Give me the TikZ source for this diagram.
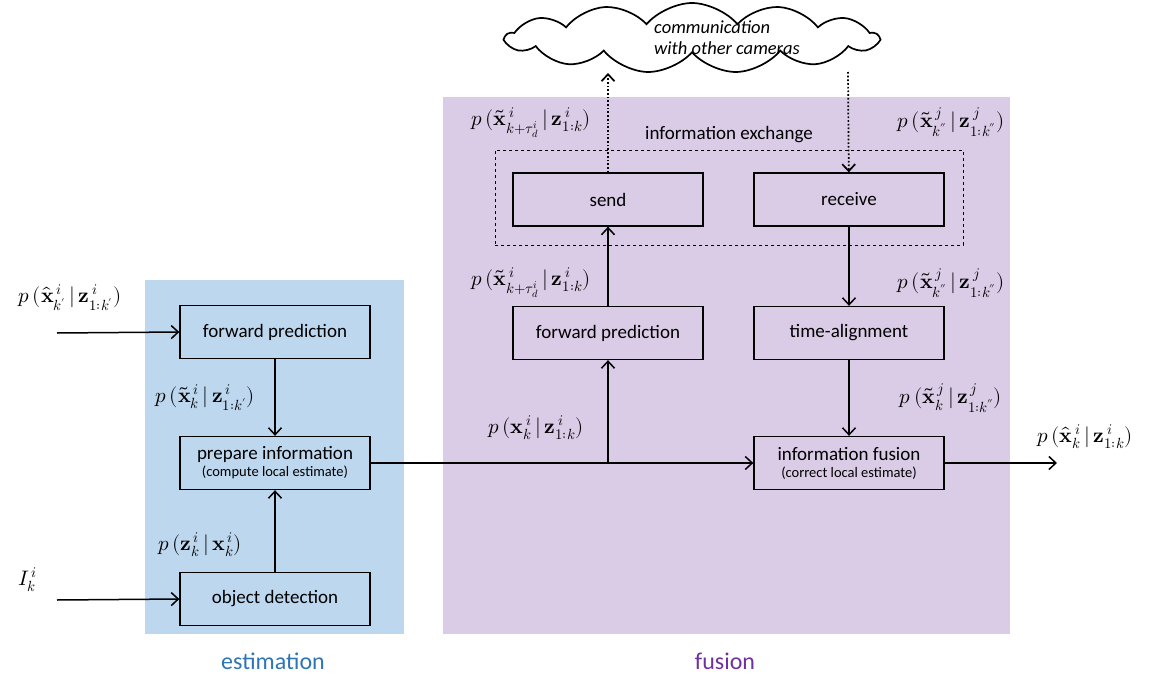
\documentclass[tikz,border=0pt]{standalone}
\usepackage{fontspec}
\usepackage{unicode-math}
\setmainfont{Carlito}
\setmathfont{Latin Modern Math}
\usetikzlibrary{arrows.meta,shapes.symbols}
\definecolor{estbg}{RGB}{189,215,238}
\definecolor{fusbg}{RGB}{218,203,230}
\definecolor{esttxt}{RGB}{46,117,182}
\definecolor{fustxt}{RGB}{112,48,160}
\newcommand{\bx}{\symbf{x}}
\newcommand{\bz}{\symbf{z}}
\newcommand{\tx}{\widetilde{\symbf{x}}}
\newcommand{\hx}{\hat{\symbf{x}}}
\begin{document}
\begin{tikzpicture}[x=1pt,y=-1pt,
  box/.style={draw, line width=1.3pt, minimum width=190pt, minimum height=53pt,
    font=\fontsize{19}{21}\selectfont, align=center, inner sep=0pt},
  flow/.style={line width=1.5pt, -{Straight Barb[length=7pt,width=13pt]}},
  link/.style={line width=1.7pt, dotted, -{Straight Barb[length=7pt,width=13pt]}},
  prob/.style={font=\fontsize{21}{24}\selectfont, inner sep=0pt},
  region/.style={font=\fontsize{24}{28}\selectfont},
]
\useasboundingbox (0,0) rectangle (1160,680);

% background regions
\fill[estbg] (145,280) rectangle (404,634);
\fill[fusbg] (443,97) rectangle (1010,634);
\node[region, text=esttxt] (estlbl) at (273,661) {estimation};
\node[region, text=fustxt] (fuslbl) at (725,661) {fusion};

% processing blocks
\node[box] (fpl) at (275,332) {forward prediction};
\node[box] (prep) at (275,463) {prepare information\\[-4pt]{\fontsize{14.5}{15}\selectfont(compute local estimate)}};
\node[box] (det) at (275,599) {object detection};
\node[box] (send) at (608,199.5) {send};
\node[box] (recv) at (849,199.5) {receive};
\node[box] (fpr) at (608,333) {forward prediction};
\node[box] (talign) at (849,333) {time-alignment};
\node[box] (fuse) at (849,463) {information fusion\\[-4pt]{\fontsize{14.5}{15}\selectfont(correct local estimate)}};

% information exchange frame
\node[draw, dashed, line width=0.8pt, minimum width=468pt, minimum height=95pt, inner sep=0pt] (exch) at (729,197.5) {};
\node[font=\fontsize{19}{21}\selectfont] (exchlbl) at (729,135) {information exchange};

% cloud
\node[cloud, draw, line width=1.7pt, fill=white, cloud puffs=13, cloud puff arc=100, aspect=5.2,
  minimum width=372pt, minimum height=70pt, inner sep=0pt] (cloud) at (692,38) {};
\node[font=\itshape\fontsize{18.5}{21}\selectfont, align=left] (comm) at (727,38) {communication\\with other cameras};

% connectors
\coordinate (inA) at (57,333);
\coordinate (inB) at (57,600);
\coordinate (split) at (608,463);
\coordinate (out) at (1057,463);
\coordinate (upc) at (608,73);
\coordinate (dnc) at (848,72);
\draw[flow] (inA) -- (fpl.west);
\draw[flow] (inB) -- (det.west);
\draw[flow] (fpl) -- (prep);
\draw[flow] (det) -- (prep);
\draw[flow] (prep) -- (fuse);
\draw[flow] (split) -- (fpr);
\draw[flow] (fpr) -- (send);
\draw[flow] (recv) -- (talign);
\draw[flow] (talign) -- (fuse);
\draw[flow] (fuse) -- (out);
\draw[link] (send) -- (upc);
\draw[link] (dnc) -- (recv);

% probability labels
\node[prob] (pA) at (70,298) {$p\,(\hx^{\,i}_{k'}\,|\,\bz^{\,i}_{1:k'})$};
\node[prob] (pB) at (205,398) {$p\,(\tx^{\,i}_{k}\,|\,\bz^{\,i}_{1:k'})$};
\node[prob] (pC) at (200,545) {$p\,(\bz^{\,i}_{k}\,|\,\bx^{\,i}_{k})$};
\node[prob] (pI) at (28,580) {$I^{\,i}_{k}$};
\node[prob] (pD) at (536,428) {$p\,(\bx^{\,i}_{k}\,|\,\bz^{\,i}_{1:k})$};
\node[prob] (pE) at (531,283) {$p\,(\tx^{\,i}_{k+\tau^i_d}\,|\,\bz^{\,i}_{1:k})$};
\node[prob] (pF) at (531,123) {$p\,(\tx^{\,i}_{k+\tau^i_d}\,|\,\bz^{\,i}_{1:k})$};
\node[prob] (pG) at (951,122) {$p\,(\tx^{\,j}_{k''}\,|\,\bz^{\,j}_{1:k''})$};
\node[prob] (pH) at (951,283) {$p\,(\tx^{\,j}_{k''}\,|\,\bz^{\,j}_{1:k''})$};
\node[prob] (pJ) at (951,398) {$p\,(\tx^{\,j}_{k}\,|\,\bz^{\,j}_{1:k''})$};
\node[prob] (pK) at (1085,437) {$p\,(\hx^{\,i}_{k}\,|\,\bz^{\,i}_{1:k})$};
\end{tikzpicture}
\end{document}
